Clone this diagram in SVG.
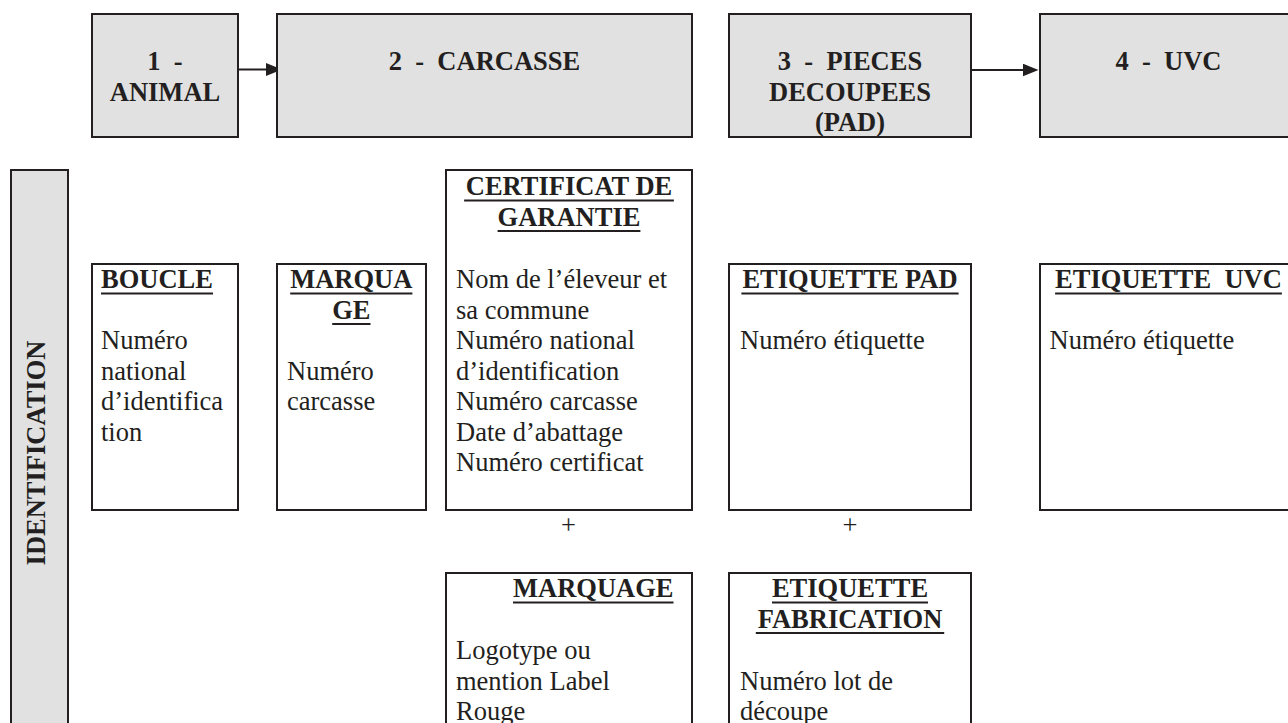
<svg xmlns="http://www.w3.org/2000/svg" width="1288" height="723" viewBox="0 0 1288 723">
<defs>
<style>
.box{fill:#ffffff;stroke:#231f20;stroke-width:2}
.gray{fill:#e1e1e1}
text{font-family:"Liberation Serif","Times New Roman",serif;font-size:26.5px;fill:#231f20}
.b{font-weight:bold}
.c{text-anchor:middle}
.e{text-anchor:end}
.ul{stroke:#231f20;stroke-width:2}
.conn{stroke:#231f20;stroke-width:2;fill:none}
</style>
<marker id="arr" markerUnits="userSpaceOnUse" markerWidth="16" markerHeight="13" refX="8" refY="6.5" orient="auto"><path d="M0,0 L16,6.5 L0,13 z" fill="#231f20"/></marker>
</defs>
<rect width="1288" height="723" fill="#ffffff"/>

<g id="connectors">
<line class="conn" x1="238" y1="69.5" x2="274" y2="69.5" marker-end="url(#arr)"/>
<line class="conn" x1="971" y1="70" x2="1030.5" y2="70" marker-end="url(#arr)"/>
</g>

<g id="stage1-animal">
<rect class="box gray" x="92" y="14" width="146" height="123"/>
<text class="b c" x="165" y="70" xml:space="preserve">1  -</text>
<text class="b c" x="165" y="100.5">ANIMAL</text>
</g>
<g id="stage2-carcasse">
<rect class="box gray" x="277" y="14" width="415" height="123"/>
<text class="b c" x="484.5" y="70" xml:space="preserve">2  -  CARCASSE</text>
</g>
<g id="stage3-pieces">
<rect class="box gray" x="729" y="14" width="242" height="123"/>
<text class="b c" x="850" y="70" xml:space="preserve">3  -  PIECES</text>
<text class="b c" x="850" y="100.5">DECOUPEES</text>
<text class="b c" x="850" y="131">(PAD)</text>
</g>
<g id="stage4-uvc">
<rect class="box gray" x="1040" y="14" width="258" height="123"/>
<text class="b c" x="1168.5" y="70" xml:space="preserve">4  -  UVC</text>
</g>

<g id="identification">
<rect class="box gray" x="11" y="170" width="57" height="580"/>
<text class="b c" transform="translate(45,453) rotate(-90)">IDENTIFICATION</text>
</g>

<g id="boucle">
<rect class="box" x="92" y="264" width="146" height="246"/>
<text class="b" x="101" y="288">BOUCLE</text>
<line class="ul" x1="101" y1="293.5" x2="213" y2="293.5"/>
<text x="101" y="349">Numéro</text>
<text x="101" y="379.5">national</text>
<text x="101" y="410">d’identifica</text>
<text x="101" y="440.5">tion</text>
</g>

<g id="marquage-carcasse">
<rect class="box" x="277" y="264" width="149" height="246"/>
<text class="b c" x="351.3" y="288">MARQUA</text>
<line class="ul" x1="290.2" y1="293.5" x2="412.4" y2="293.5"/>
<text class="b c" x="351.3" y="318.5">GE</text>
<line class="ul" x1="332.2" y1="324" x2="370.5" y2="324"/>
<text x="287" y="379.5">Numéro</text>
<text x="287" y="410">carcasse</text>
</g>

<g id="certificat">
<rect class="box" x="446" y="170" width="246" height="340"/>
<text class="b c" x="569" y="195">CERTIFICAT DE</text>
<line class="ul" x1="464.1" y1="200.5" x2="673.9" y2="200.5"/>
<text class="b c" x="569" y="225.5">GARANTIE</text>
<line class="ul" x1="497.6" y1="231" x2="640.4" y2="231"/>
<text x="456" y="288">Nom de l’éleveur et</text>
<text x="456" y="318.5">sa commune</text>
<text x="456" y="349">Numéro national</text>
<text x="456" y="379.5">d’identification</text>
<text x="456" y="410">Numéro carcasse</text>
<text x="456" y="440.5">Date d’abattage</text>
<text x="456" y="471">Numéro certificat</text>
</g>

<g id="etiquette-pad">
<rect class="box" x="729" y="264" width="242" height="246"/>
<text class="b c" x="850" y="288">ETIQUETTE PAD</text>
<line class="ul" x1="741.4" y1="293.5" x2="958.6" y2="293.5"/>
<text x="740" y="349">Numéro étiquette</text>
</g>

<g id="etiquette-uvc">
<rect class="box" x="1040" y="264" width="258" height="246"/>
<text class="b c" x="1168.5" y="288" xml:space="preserve">ETIQUETTE  UVC</text>
<line class="ul" x1="1055.1" y1="293.5" x2="1281.9" y2="293.5"/>
<text x="1049.5" y="349">Numéro étiquette</text>
</g>

<g id="plus-signs">
<text class="c" x="568.5" y="533.5">+</text>
<text class="c" x="850" y="533.5">+</text>
</g>

<g id="marquage-label">
<rect class="box" x="446" y="573" width="246" height="200"/>
<text class="b e" x="673.5" y="597">MARQUAGE</text>
<line class="ul" x1="513" y1="602.5" x2="673.5" y2="602.5"/>
<text x="456" y="659">Logotype ou</text>
<text x="456" y="689.5">mention Label</text>
<text x="456" y="720">Rouge</text>
</g>

<g id="etiquette-fabrication">
<rect class="box" x="729" y="573" width="242" height="200"/>
<text class="b c" x="850" y="597">ETIQUETTE</text>
<line class="ul" x1="772" y1="602.5" x2="928" y2="602.5"/>
<text class="b c" x="850" y="627.5">FABRICATION</text>
<line class="ul" x1="755.8" y1="633" x2="944.2" y2="633"/>
<text x="740" y="689.5">Numéro lot de</text>
<text x="740" y="720">découpe</text>
</g>
</svg>
